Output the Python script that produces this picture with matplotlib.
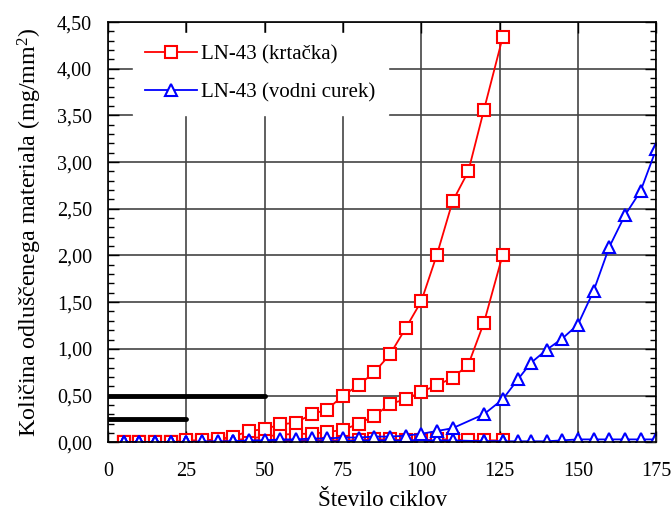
import matplotlib
matplotlib.use("Agg")
import matplotlib.pyplot as plt
from matplotlib.ticker import MultipleLocator, FuncFormatter

plt.rcParams['font.family'] = ['Liberation Serif', 'DejaVu Serif']
plt.rcParams['mathtext.fontset'] = 'custom'
plt.rcParams['mathtext.rm'] = 'Liberation Serif'
plt.rcParams['mathtext.it'] = 'Liberation Serif:italic'

# cycles for brush test (krtacka)
x_brush = [5, 10, 15, 20, 25, 30, 35, 40, 45, 50, 55, 60, 65, 70, 75,
           80, 85, 90, 95, 100, 105, 110, 115, 120, 126]
brush_1 = [0.00, 0.00, 0.00, 0.00, 0.02, 0.02, 0.03, 0.06, 0.12, 0.14, 0.19, 0.21, 0.30,
           0.35, 0.50, 0.61, 0.75, 0.94, 1.22, 1.51, 2.01, 2.58, 2.90, 3.56, 4.34]
brush_2 = [0.00, 0.00, 0.00, 0.00, 0.01, 0.01, 0.02, 0.02, 0.04, 0.06, 0.08, 0.09, 0.09,
           0.11, 0.13, 0.20, 0.28, 0.41, 0.46, 0.54, 0.61, 0.69, 0.83, 1.28, 2.01]
brush_3 = [0.00, 0.00, 0.00, 0.00, 0.01, 0.01, 0.01, 0.01, 0.02, 0.02, 0.02, 0.02, 0.02,
           0.02, 0.02, 0.02, 0.03, 0.03, 0.02, 0.02, 0.03, 0.03, 0.02, 0.02, 0.02]

# cycles for water jet test (vodni curek)
x_jet = [5, 10, 15, 20, 25, 30, 35, 40, 45, 50, 55, 60, 65, 70, 75, 80, 85,
         90, 95, 100, 105, 110, 120, 126, 131, 135, 140, 145, 150, 155, 160,
         165, 170, 175]
jet_1 = [0.00, 0.00, 0.00, 0.00, 0.00, 0.01, 0.01, 0.01, 0.02, 0.02, 0.03, 0.03, 0.04,
         0.04, 0.05, 0.05, 0.06, 0.06, 0.07, 0.09, 0.12, 0.15, 0.30, 0.46, 0.68,
         0.85, 0.99, 1.11, 1.26, 1.62, 2.09, 2.43, 2.69, 3.14]
jet_2 = [0.00, 0.00, 0.00, 0.00, 0.00, 0.00, 0.00, 0.01, 0.01, 0.01, 0.01, 0.01, 0.01,
         0.01, 0.01, 0.02, 0.02, 0.02, 0.02, 0.02, 0.02, 0.02, 0.01, 0.01, 0.01,
         0.01, 0.01, 0.02, 0.03, 0.03, 0.03, 0.03, 0.03, 0.03]
x_jet_short = x_jet[:24]
jet_3 = [0.00, 0.00, 0.00, 0.00, 0.00, 0.00, 0.00, 0.00, 0.00, 0.00, 0.00, 0.00, 0.00,
         0.00, 0.00, 0.00, 0.01, 0.01, 0.01, 0.01, 0.01, 0.01, 0.01, 0.01]

# reference bars (black)
ref_levels = [0.50, 0.25]
ref_ends = [50, 25]

fig = plt.figure(figsize=(6.71, 5.13), dpi=100)
ax = fig.add_axes([0.161, 0.138, 0.817, 0.819])

red_kw = dict(color='red', lw=1.3, marker='s', ms=8, mfc='white', mec='red', mew=1.5)
blue_kw = dict(color='blue', lw=1.3, marker='^', ms=9, mfc='white', mec='blue', mew=1.5)

ax.plot(x_brush, brush_3, **red_kw)
ax.plot(x_brush, brush_2, **red_kw)
ax.plot(x_brush, brush_1, label='LN-43 (krtačka)', **red_kw)
ax.plot(x_jet_short, jet_3, **blue_kw)
ax.plot(x_jet, jet_2, **blue_kw)
ax.plot(x_jet, jet_1, label='LN-43 (vodni curek)', **blue_kw)

for lev, end in zip(ref_levels, ref_ends):
    ax.plot([0, end], [lev, lev], color='black', lw=3.5, solid_capstyle='round', zorder=4)

ax.set_xlim(0, 175)
ax.set_ylim(0, 4.5)
ax.xaxis.set_major_locator(MultipleLocator(25))
ax.yaxis.set_major_locator(MultipleLocator(0.5))
ax.yaxis.set_minor_locator(MultipleLocator(0.1))
ax.yaxis.set_major_formatter(FuncFormatter(lambda v, p: f"{v:.2f}".replace('.', ',')))
ax.tick_params(which='both', direction='in', top=True, right=True, labelsize=14.5)
ax.tick_params(which='major', length=8, width=1)
ax.tick_params(which='minor', length=4, width=1)
ax.tick_params(axis='x', pad=14)
ax.tick_params(axis='y', pad=11.5)
ax.grid(True, which='major', color='#444444', lw=1.2)
ax.set_axisbelow(True)
for s in ax.spines.values():
    s.set_linewidth(1.2)

ax.set_xlabel('Število ciklov', fontsize=16.7, labelpad=7)
ax.set_ylabel('Količina odluščenega materiala (mg/mm$^2$)', fontsize=17.3, labelpad=9)

leg = ax.legend(loc='upper left', bbox_to_anchor=(0.0456, 0.974), borderaxespad=0,
                fontsize=15, frameon=True, framealpha=1, edgecolor='white',
                fancybox=False, handlelength=2.5, handletextpad=0.2,
                borderpad=0.58, labelspacing=0.88)

fig.savefig('out.png', dpi=100)
